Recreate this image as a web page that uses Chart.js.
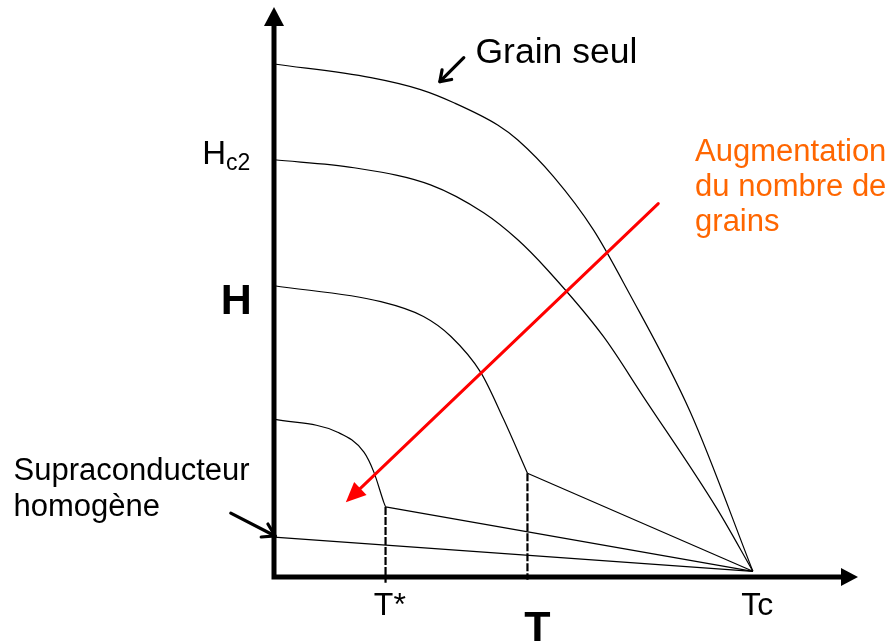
<!DOCTYPE html>
<html>
<head>
<meta charset="utf-8">
<script src="https://cdn.jsdelivr.net/npm/chart.js@4.4.0/dist/chart.umd.min.js"></script>
<style>
  html, body { margin: 0; padding: 0; background: #fff; }
  #wrap { width: 893px; height: 644px; }
</style>
</head>
<body>
<div id="wrap"><canvas id="diagram" width="893" height="644"></canvas></div>
<script>
// every branch ends at Tc
const tc = [82, 1];
const tStar = 19.1;
const tKink = 43.4;

// H(T) branches, from the single grain down to the homogeneous superconductor
const grainSeulT = [0, 16.6, 25.1, 30.8, 38.3, 41.7, 47.9, 54.7, 60.5, 71.3, 82];
const grainSeulH = [90.0, 87.6, 85.5, 83.2, 79.3, 76.7, 70.2, 60.9, 50.4, 28.9, 1];

const hc2T = [0, 13.7, 26.8, 35.9, 41.7, 46.8, 56.4, 63.2, 75.9, 82];
const hc2H = [73.2, 71.8, 68.8, 63.9, 59.2, 53.9, 42.2, 31.7, 11.9, 1];

const midT = [0, 18.3, 25.6, 30.3, 35.4, 39.3, 43.4];
const midH = [51.1, 48.3, 45.7, 42.2, 35.9, 27.7, 18.2];

const lowT = [0, 10.9, 15.4, 17.1, 18.8, 19.1];
const lowH = [27.7, 25.4, 21.9, 18.4, 13.1, 12.3];

const homogeneT = [0, 82];
const homogeneH = [7.0, 1];

// tick labels
const xTickLabels = ['T*', 'Tc'];
const xTickValues = [tStar, tc[0]];
const yTickLabel = ['H', 'c2'];

const pts = (ts, hs) => ts.map((t, i) => ({ x: t, y: hs[i] }));

const curve = (ts, hs) => ({
  data: pts(ts, hs),
  borderColor: '#000',
  borderWidth: 1.2,
  pointRadius: 0,
  cubicInterpolationMode: 'monotone',
  clip: false
});

const straight = (a, b, dash) => ({
  data: [{ x: a[0], y: a[1] }, { x: b[0], y: b[1] }],
  borderColor: '#000',
  borderWidth: dash ? 2.2 : 1.2,
  borderDash: dash ? [8, 2] : [],
  pointRadius: 0,
  clip: false
});

const last = (ts, hs) => [ts[ts.length - 1], hs[hs.length - 1]];

function arrow(ctx, from, to, opts) {
  const ang = Math.atan2(to[1] - from[1], to[0] - from[0]);
  ctx.save();
  ctx.strokeStyle = opts.color;
  ctx.fillStyle = opts.color;
  ctx.lineWidth = opts.width;
  ctx.lineCap = 'round';
  ctx.lineJoin = 'round';
  const back = opts.filled ? opts.len * 0.8 : 0;
  ctx.beginPath();
  ctx.moveTo(from[0], from[1]);
  ctx.lineTo(to[0] - back * Math.cos(ang), to[1] - back * Math.sin(ang));
  ctx.stroke();
  const l = [to[0] - opts.len * Math.cos(ang - opts.spread), to[1] - opts.len * Math.sin(ang - opts.spread)];
  const r = [to[0] - opts.len * Math.cos(ang + opts.spread), to[1] - opts.len * Math.sin(ang + opts.spread)];
  ctx.beginPath();
  if (opts.filled) {
    ctx.moveTo(to[0], to[1]);
    ctx.lineTo(l[0], l[1]);
    ctx.lineTo(r[0], r[1]);
    ctx.closePath();
    ctx.fill();
  } else {
    ctx.moveTo(l[0], l[1]);
    ctx.lineTo(to[0], to[1]);
    ctx.lineTo(r[0], r[1]);
    ctx.stroke();
  }
  ctx.restore();
}

const axesAndNotes = {
  id: 'axesAndNotes',
  beforeDatasetsDraw(chart) {
    const { ctx, chartArea: a, scales: { x, y } } = chart;
    const x0 = x.getPixelForValue(0), y0 = y.getPixelForValue(0);
    ctx.save();
    ctx.fillStyle = '#000';
    ctx.strokeStyle = '#000';
    ctx.lineWidth = 5;
    ctx.beginPath();
    ctx.moveTo(x0, a.top + 16);
    ctx.lineTo(x0, y0);
    ctx.lineTo(a.right - 14, y0);
    ctx.stroke();
    // arrow heads on both axes
    ctx.beginPath();
    ctx.moveTo(x0, a.top);
    ctx.lineTo(x0 - 10, a.top + 19);
    ctx.lineTo(x0 + 10, a.top + 19);
    ctx.closePath();
    ctx.fill();
    ctx.beginPath();
    ctx.moveTo(a.right, y0);
    ctx.lineTo(a.right - 17, y0 - 9);
    ctx.lineTo(a.right - 17, y0 + 9);
    ctx.closePath();
    ctx.fill();
    ctx.restore();
  },
  afterDatasetsDraw(chart) {
    const { ctx, scales: { x, y } } = chart;
    const px = (t, h) => [x.getPixelForValue(t), y.getPixelForValue(h)];
    const text = (s, t, h, font, color, align) => {
      const p = px(t, h);
      ctx.font = font;
      ctx.fillStyle = color || '#000';
      ctx.textAlign = align || 'left';
      ctx.textBaseline = 'alphabetic';
      ctx.fillText(s, p[0], p[1]);
    };
    const sans = '"Liberation Sans", Arial, sans-serif';
    ctx.save();

    // tick labels on T
    xTickLabels.forEach((s, i) => text(s, xTickValues[i] - 2, -6.7, '32px ' + sans));
    // Hc2 next to its branch
    const hTick = px(-12.3, hc2H[0] - 0.7);
    ctx.font = '33px ' + sans;
    ctx.fillStyle = '#000';
    ctx.textAlign = 'left';
    ctx.fillText(yTickLabel[0], hTick[0], hTick[1]);
    const hw = ctx.measureText(yTickLabel[0]).width;
    ctx.font = '23px ' + sans;
    ctx.fillText(yTickLabel[1], hTick[0] + hw, hTick[1] + 6);

    // axis titles
    text('H', -9.1, 46.2, 'bold 43px ' + sans);
    text('T', 45.1, -11.2, 'bold 43px ' + sans, '#000', 'center');

    // notes
    text('Grain seul', 34.5, 90.2, '35.5px ' + sans);
    arrow(ctx, px(32.5, 91.1), px(28.4, 86.9), { color: '#000', width: 3.2, len: 12, spread: 0.6 });

    text('Supraconducteur', -44.6, 17.0, '31px ' + sans);
    text('homogène', -44.6, 10.7, '31px ' + sans);
    arrow(ctx, px(-7.4, 11.2), px(0.2, 7.2), { color: '#000', width: 3.2, len: 14, spread: 0.55 });

    ['Augmentation', 'du nombre de', 'grains'].forEach((s, i) =>
      text(s, 72.1, 72.9 - i * 6.1, '31px ' + sans, '#FF6600'));
    arrow(ctx, px(65.8, 65.5), px(12.3, 13.1), { color: '#FF0000', width: 3, len: 22, spread: 0.42, filled: true });

    ctx.restore();
  }
};

new Chart(document.getElementById('diagram'), {
  type: 'scatter',
  data: {
    datasets: [
      curve(grainSeulT, grainSeulH),
      curve(hc2T, hc2H),
      curve(midT, midH),
      straight(last(midT, midH), tc),
      curve(lowT, lowH),
      straight(last(lowT, lowH), tc),
      straight([homogeneT[0], homogeneH[0]], [homogeneT[1], homogeneH[1]]),
      straight([tStar, lowH[lowH.length - 1]], [tStar, -1.0], true),
      straight([tKink, midH[midH.length - 1]], [tKink, -0.5], true)
    ].map(d => Object.assign(d, { showLine: true }))
  },
  options: {
    responsive: false,
    animation: false,
    devicePixelRatio: 1,
    layout: { padding: { left: 274, right: 35, top: 7, bottom: 67 } },
    scales: {
      x: { type: 'linear', min: 0, max: 100, display: false },
      y: { type: 'linear', min: 0, max: 100, display: false }
    },
    plugins: { legend: { display: false }, tooltip: { enabled: false } }
  },
  plugins: [axesAndNotes]
});
</script>
</body>
</html>
